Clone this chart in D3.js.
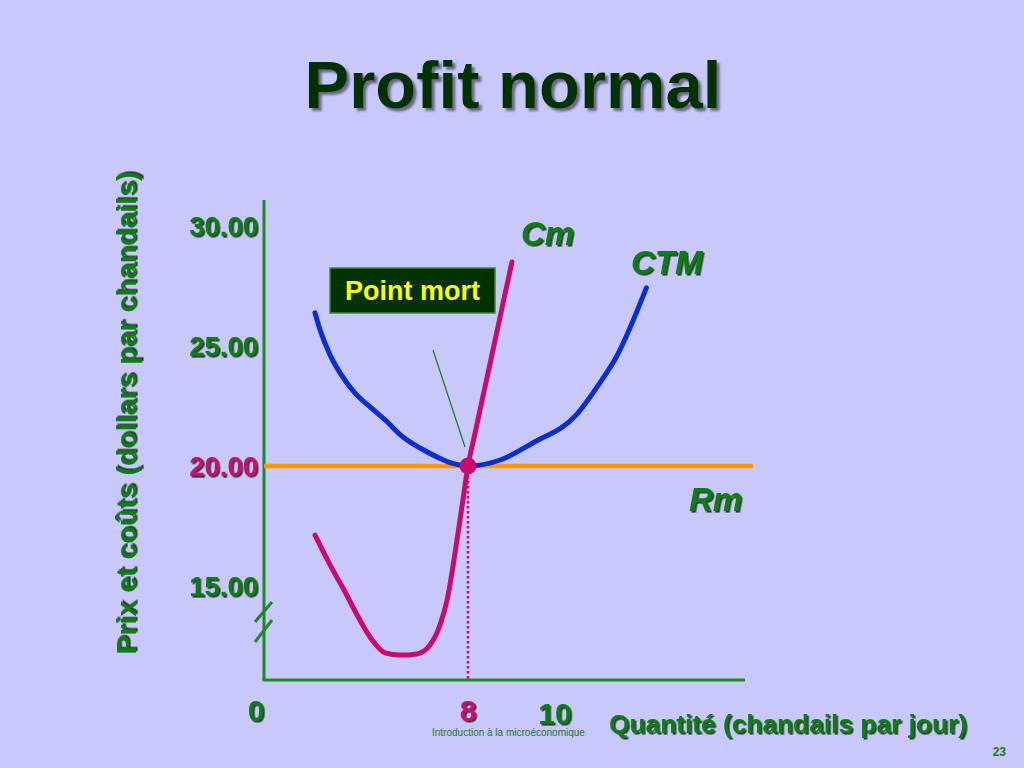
<!DOCTYPE html>
<html><head><meta charset="utf-8">
<script src="https://cdn.jsdelivr.net/npm/d3@7"></script>
<style>html,body{margin:0;padding:0;background:#c9c8fb;}svg{display:block;}</style>
</head><body>
<script>
// ---- data ----
const title = "Profit normal";
const yTicks = [15, 20, 25, 30];
const yTickLabels = ["15.00", "20.00", "25.00", "30.00"];
const xTicks = [0, 8, 10];
const xTickLabels = ["0", "8", "10"];
const price = 20;          // Rm
const breakEvenQ = 8;
const cmQ   = [2.0, 2.59, 3.18, 3.76, 4.24, 4.75, 5.33, 6.0, 6.51, 6.9, 7.18, 7.57, 7.8, 8.0, 8.16, 8.39, 8.62, 9.01];
const cmV   = [17.12, 15.88, 14.75, 13.58, 12.75, 12.21, 12.12, 12.17, 12.54, 13.37, 14.42, 16.92, 18.58, 20.0, 21.35, 23.28, 25.22, 28.5];
const ctmQ  = [2.0, 2.2, 2.59, 2.98, 3.57, 4.16, 4.75, 5.45, 6.12, 6.78, 7.37, 8.0, 8.74, 9.49, 10.49, 11.03, 11.41, 12.1];
const ctmV  = [26.38, 25.67, 24.63, 23.88, 23.04, 22.46, 21.92, 21.21, 20.75, 20.38, 20.12, 20.0, 20.25, 20.96, 22.13, 23.46, 24.54, 27.42];

const W = 1024, H = 768;
const svg = d3.select("body").append("svg").attr("width", W).attr("height", H);
svg.append("rect").attr("width", W).attr("height", H).attr("fill", "#c9c8fb");

const defs = svg.append("defs");
const f1 = defs.append("filter").attr("id", "sh").attr("x", "-20%").attr("y", "-20%").attr("width", "140%").attr("height", "140%");
f1.append("feDropShadow").attr("dx", 1.6).attr("dy", 1.6).attr("stdDeviation", 0.5).attr("flood-color", "#0e200e").attr("flood-opacity", 0.85);
const f2 = defs.append("filter").attr("id", "shT").attr("x", "-20%").attr("y", "-20%").attr("width", "140%").attr("height", "140%");
f2.append("feDropShadow").attr("dx", 3).attr("dy", 3).attr("stdDeviation", 1).attr("flood-color", "#5e5e78").attr("flood-opacity", 0.9);

// ---- scales ----
const x = d3.scaleLinear().domain([0, 8, 10]).range([264, 468, 555]);
const y = d3.scaleLinear().domain([20, 30]).range([466, 226]);
const xAxisY = 680, yAxisTop = 200, xAxisRight = 745;

const green = "#0a7d12", axisGreen = "#1e8a24", magenta = "#cc0a6e";
const font = "Liberation Sans, Arial, sans-serif";

// title
svg.append("text").attr("x", 513).attr("y", 108).attr("text-anchor", "middle")
  .attr("font-family", font).attr("font-weight", "bold").attr("font-size", 67)
  .attr("fill", "#003300").attr("filter", "url(#shT)").text(title);

// axes
svg.append("line").attr("x1", x(0)).attr("x2", x(0)).attr("y1", yAxisTop).attr("y2", xAxisY)
  .attr("stroke", axisGreen).attr("stroke-width", 3);
svg.append("line").attr("x1", x(0) - 1.5).attr("x2", xAxisRight).attr("y1", xAxisY).attr("y2", xAxisY)
  .attr("stroke", axisGreen).attr("stroke-width", 3);
// break marks
[[622, 602], [642, 620]].forEach(([a, b]) => {
  svg.append("line").attr("x1", 255).attr("y1", a).attr("x2", 272).attr("y2", b)
    .attr("stroke", axisGreen).attr("stroke-width", 3);
});

// y tick labels
yTicks.forEach((t, i) => {
  svg.append("text").attr("x", 258).attr("y", y(t) + 10).attr("text-anchor", "end")
    .attr("font-family", font).attr("font-weight", "bold").attr("font-size", 27.5)
    .attr("fill", t === price ? magenta : green).attr("filter", "url(#sh)").text(yTickLabels[i]);
});
// x tick labels
xTicks.forEach((t, i) => {
  svg.append("text").attr("x", x(t) + (t === 0 ? -8 : 0)).attr("y", t === 10 ? 724 : 721).attr("text-anchor", "middle")
    .attr("font-family", font).attr("font-weight", "bold").attr("font-size", 30)
    .attr("fill", t === breakEvenQ ? magenta : green).attr("filter", "url(#sh)").text(xTickLabels[i]);
});

// axis titles
svg.append("text").attr("transform", "translate(136,413) rotate(-90)").attr("text-anchor", "middle")
  .attr("font-family", font).attr("font-weight", "bold").attr("font-size", 28.5)
  .attr("fill", green).attr("filter", "url(#sh)").text("Prix et coûts (dollars par chandails)");
svg.append("text").attr("x", 609).attr("y", 733)
  .attr("font-family", font).attr("font-weight", "bold").attr("font-size", 26.3)
  .attr("fill", green).attr("filter", "url(#sh)").text("Quantité (chandails par jour)");
svg.append("text").attr("x", 432).attr("y", 736)
  .attr("font-family", font).attr("font-size", 10).attr("fill", "#1a7a1a").text("Introduction à la microéconomique");
svg.append("text").attr("x", 1006).attr("y", 756).attr("text-anchor", "end")
  .attr("font-family", font).attr("font-weight", "bold").attr("font-size", 12).attr("fill", "#1a7a1a").text("23");

// Rm line
svg.append("line").attr("x1", x(0)).attr("x2", 753).attr("y1", y(price)).attr("y2", y(price))
  .attr("stroke", "#ff9900").attr("stroke-width", 4.5);

// dotted vertical
svg.append("line").attr("x1", x(breakEvenQ)).attr("x2", x(breakEvenQ)).attr("y1", y(price)).attr("y2", xAxisY)
  .attr("stroke", magenta).attr("stroke-width", 2.5).attr("stroke-dasharray", "2.5,2.5");

const line = d3.line().x(d => x(d[0])).y(d => y(d[1])).curve(d3.curveMonotoneX);
svg.append("path").datum(ctmQ.map((q, i) => [q, ctmV[i]])).attr("d", line)
  .attr("fill", "none").attr("stroke", "#0a2fcf").attr("stroke-width", 5).attr("stroke-linecap", "round");
svg.append("path").datum(cmQ.map((q, i) => [q, cmV[i]])).attr("d", line)
  .attr("fill", "none").attr("stroke", magenta).attr("stroke-width", 5).attr("stroke-linecap", "round");

// break-even point
svg.append("circle").attr("cx", x(breakEvenQ)).attr("cy", y(price)).attr("r", 8.5).attr("fill", magenta);

// leader line + box
svg.append("line").attr("x1", 433).attr("y1", 350).attr("x2", 465).attr("y2", 447)
  .attr("stroke", "#1a7a1a").attr("stroke-width", 1.2);
svg.append("rect").attr("x", 330).attr("y", 268).attr("width", 165).attr("height", 45)
  .attr("fill", "#003300").attr("stroke", "#3a8a3a").attr("stroke-width", 1.5);
svg.append("text").attr("x", 412.5).attr("y", 300).attr("text-anchor", "middle")
  .attr("font-family", font).attr("font-weight", "bold").attr("font-size", 27)
  .attr("fill", "#ffff00").text("Point mort");

// curve labels
[["Cm", 521, 245], ["CTM", 631, 274], ["Rm", 689, 511]].forEach(([t, xx, yy]) => {
  svg.append("text").attr("x", xx).attr("y", yy)
    .attr("font-family", font).attr("font-weight", "bold").attr("font-style", "italic").attr("font-size", 33)
    .attr("fill", green).attr("filter", "url(#sh)").text(t);
});
</script>
</body></html>
